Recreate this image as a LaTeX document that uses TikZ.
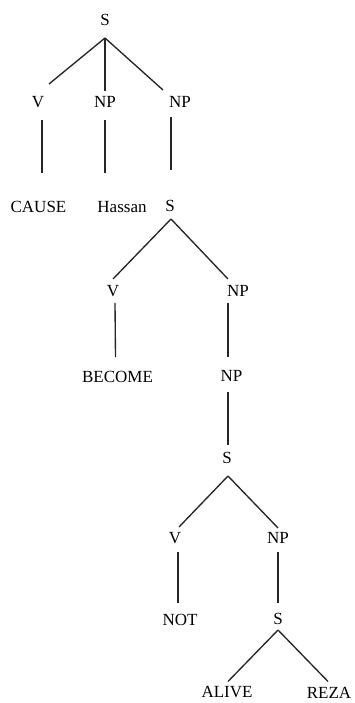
\documentclass[tikz,border=0pt]{standalone}
\usepackage{fontspec}
\setmainfont{Liberation Serif}
\begin{document}
\begin{tikzpicture}[x=1pt,y=-1pt,
  lab/.style={inner sep=0pt,anchor=center,font=\fontsize{17}{20}\selectfont},
  edge/.style={line width=1.35pt,black!85}]
\useasboundingbox (0,0) rectangle (355,703);
\node[lab] (s1) at (105,20) {S};
\node[lab] (v1) at (38,102) {V};
\node[lab] (np1) at (105,102) {NP};
\node[lab] (np2) at (180,102) {NP};
\node[lab] (cause) at (38.5,207) {CAUSE};
\node[lab] (hassan) at (122,207) {Hassan};
\node[lab] (s2) at (170,206) {S};
\node[lab] (v2) at (113,291) {V};
\node[lab] (np3) at (238,291) {NP};
\node[lab] (become) at (117.5,377) {BECOME};
\node[lab] (np4) at (231.5,376) {NP};
\node[lab] (s3) at (227,458) {S};
\node[lab] (v3) at (175,538) {V};
\node[lab] (np5) at (278,538) {NP};
\node[lab] (not) at (180,620) {NOT};
\node[lab] (s4) at (278,619) {S};
\node[lab] (alive) at (227,692.5) {ALIVE};
\node[lab] (reza) at (329,692.5) {REZA};

\draw[edge] ([shift={(0,18)}]s1.center) -- ([shift={(11,-18)}]v1.center);
\draw[edge] ([shift={(0,18)}]s1.center) -- ([shift={(0,-11)}]np1.center);
\draw[edge] ([shift={(0,18)}]s1.center) -- ([shift={(-17,-12)}]np2.center);
\draw[edge] ([shift={(4,18)}]v1.center) -- ([shift={(3.5,-34)}]cause.center);
\draw[edge] ([shift={(0,18)}]np1.center) -- ([shift={(-17,-34)}]hassan.center);
\draw[edge] ([shift={(-9,15)}]np2.center) -- ([shift={(1,-36)}]s2.center);
\draw[edge] ([shift={(1,13)}]s2.center) -- ([shift={(0,-12)}]v2.center);
\draw[edge] ([shift={(1,13)}]s2.center) -- ([shift={(-10,-12)}]np3.center);
\draw[edge] ([shift={(2,12)}]v2.center) -- ([shift={(-2,-20)}]become.center);
\draw[edge] ([shift={(-10,12)}]np3.center) -- ([shift={(-3.5,-19)}]np4.center);
\draw[edge] ([shift={(-3.5,16)}]np4.center) -- ([shift={(1,-13)}]s3.center);
\draw[edge] ([shift={(1,18)}]s3.center) -- ([shift={(4,-11)}]v3.center);
\draw[edge] ([shift={(1,18)}]s3.center) -- ([shift={(0,-10)}]np5.center);
\draw[edge] ([shift={(3,14)}]v3.center) -- ([shift={(-2,-17)}]not.center);
\draw[edge] ([shift={(0,14)}]np5.center) -- ([shift={(0,-16)}]s4.center);
\draw[edge] ([shift={(0,11)}]s4.center) -- ([shift={(1,-11)}]alive.center);
\draw[edge] ([shift={(0,11)}]s4.center) -- ([shift={(-1,-11)}]reza.center);
\end{tikzpicture}
\end{document}
